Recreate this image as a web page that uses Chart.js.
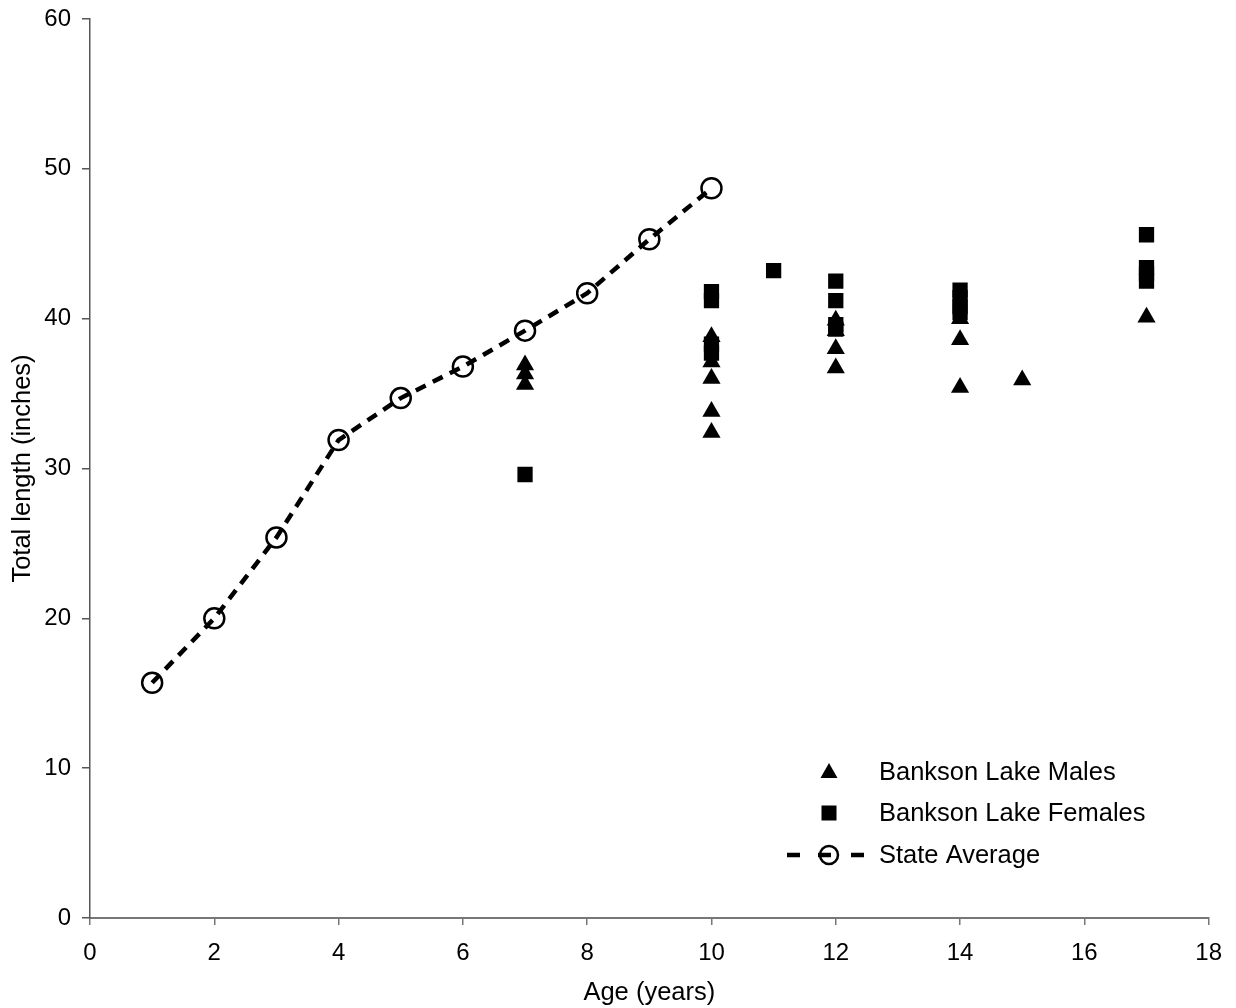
<!DOCTYPE html>
<html>
<head>
<meta charset="utf-8">
<title>Total length by age</title>
<script src="https://cdn.jsdelivr.net/npm/chart.js@4/dist/chart.umd.min.js"></script>
<style>
  html, body { margin: 0; padding: 0; background: #ffffff; }
  #wrap { width: 1236px; height: 1008px; }
</style>
</head>
<body>
<div id="wrap"><canvas id="chart" width="1236" height="1008"></canvas></div>
<script>
// Ages and lengths (inches)
const stateAges = [1, 2, 3, 4, 5, 6, 7, 8, 9, 10];
const stateAverage = [15.7, 20.0, 25.4, 31.9, 34.7, 36.8, 39.2, 41.7, 45.3, 48.7];

const maleAges    = [7, 7, 7, 10, 10, 10, 10, 10, 12, 12, 12, 12, 14, 14, 14, 15, 17];
const maleLengths = [36.9, 36.3, 35.6, 38.8, 37.1, 36.0, 33.8, 32.4, 39.9, 39.2, 38.0, 36.7, 40.0, 38.6, 35.4, 35.9, 40.1];

const femaleAges    = [7, 10, 10, 10, 10, 11, 12, 12, 12, 12, 14, 14, 14, 14, 17, 17, 17, 17];
const femaleLengths = [29.6, 41.8, 41.2, 38.3, 37.7, 43.2, 42.5, 41.2, 39.6, 39.3, 41.9, 41.4, 40.8, 40.4, 45.6, 43.4, 43.0, 42.5];

const xTicks = [0, 2, 4, 6, 8, 10, 12, 14, 16, 18];
const yTicks = [0, 10, 20, 30, 40, 50, 60];

const seriesNames = ['Bankson Lake Males', 'Bankson Lake Females', 'State Average'];

const FONT = "'Liberation Sans', Arial, Helvetica, sans-serif";

const toPoints = (xs, ys) => xs.map((x, i) => ({ x: x, y: ys[i] }));

// Legend drawn inside the plot area, lower right
const insideLegend = {
  id: 'insideLegend',
  afterDraw(chart) {
    const ctx = chart.ctx;
    const mx = 829, tx = 879;
    const rows = [772, 813, 855];
    ctx.save();
    ctx.fillStyle = '#000';
    ctx.strokeStyle = '#000';

    // triangle
    let y = rows[0];
    ctx.beginPath();
    ctx.moveTo(mx, y - 9);
    ctx.lineTo(mx + 8.5, y + 6);
    ctx.lineTo(mx - 8.5, y + 6);
    ctx.closePath();
    ctx.fill();

    // square
    y = rows[1];
    ctx.fillRect(mx - 7.5, y - 7.5, 15, 15);

    // dashed line with open circle
    y = rows[2];
    ctx.lineWidth = 4.5;
    ctx.beginPath();
    ctx.moveTo(787, y); ctx.lineTo(800, y);
    ctx.moveTo(818, y); ctx.lineTo(831, y);
    ctx.moveTo(851, y); ctx.lineTo(864, y);
    ctx.stroke();
    ctx.lineWidth = 2.5;
    ctx.beginPath();
    ctx.arc(mx, y, 9, 0, Math.PI * 2);
    ctx.stroke();

    ctx.font = '25.5px ' + FONT;
    ctx.textAlign = 'left';
    ctx.textBaseline = 'middle';
    seriesNames.forEach((name, i) => ctx.fillText(name, tx, rows[i] + 1));
    ctx.restore();
  }
};

new Chart(document.getElementById('chart'), {
  type: 'scatter',
  data: {
    datasets: [
      {
        label: seriesNames[0],
        data: toPoints(maleAges, maleLengths),
        pointStyle: 'triangle',
        pointRadius: 10.5,
        pointBackgroundColor: '#000',
        pointBorderColor: '#000',
        pointBorderWidth: 0,
        showLine: false,
        order: 3
      },
      {
        label: seriesNames[1],
        data: toPoints(femaleAges, femaleLengths),
        pointStyle: 'rect',
        pointRadius: 10.8,
        pointBackgroundColor: '#000',
        pointBorderColor: '#000',
        pointBorderWidth: 0,
        showLine: false,
        order: 2
      },
      {
        label: seriesNames[2],
        data: toPoints(stateAges, stateAverage),
        showLine: true,
        borderColor: '#000',
        borderWidth: 4.5,
        borderDash: [11, 8],
        pointStyle: 'circle',
        pointRadius: 10,
        pointBackgroundColor: 'rgba(0,0,0,0)',
        pointBorderColor: '#000',
        pointBorderWidth: 2.5,
        tension: 0,
        order: 1
      }
    ]
  },
  options: {
    responsive: false,
    animation: false,
    events: [],
    layout: { padding: { top: 19, right: 26, bottom: 0, left: 0 } },
    plugins: {
      legend: { display: false },
      tooltip: { enabled: false },
      title: { display: false }
    },
    scales: {
      x: {
        type: 'linear',
        min: 0,
        max: 18,
        afterBuildTicks(scale) { scale.ticks = xTicks.map(v => ({ value: v })); },
        afterFit(scale) { scale.height = 90; },
        border: { display: true, color: '#777', width: 2 },
        grid: { display: true, drawOnChartArea: false, drawTicks: true, tickLength: 7, color: '#777', lineWidth: 1.5 },
        ticks: { color: '#000', font: { family: FONT, size: 24 }, padding: 14, maxRotation: 0 },
        title: { display: true, text: 'Age (years)', color: '#000', font: { family: FONT, size: 25.5 }, padding: { top: 0, bottom: 0 } }
      },
      y: {
        type: 'linear',
        min: 0,
        max: 60,
        afterBuildTicks(scale) { scale.ticks = yTicks.map(v => ({ value: v })); },
        afterFit(scale) {
          scale.width = 90;
          // plot area edges come from the layout padding alone
          scale.paddingTop = 0;
          scale.paddingBottom = 0;
        },
        border: { display: true, color: '#555', width: 1.5 },
        grid: { display: true, drawOnChartArea: false, drawTicks: true, tickLength: 8, color: '#555', lineWidth: 1.5 },
        ticks: { color: '#000', font: { family: FONT, size: 24 }, padding: 11 },
        title: { display: true, text: 'Total length (inches)', color: '#000', font: { family: FONT, size: 25.5 }, padding: { top: 8, bottom: 8 } }
      }
    }
  },
  plugins: [insideLegend]
});
</script>
</body>
</html>
